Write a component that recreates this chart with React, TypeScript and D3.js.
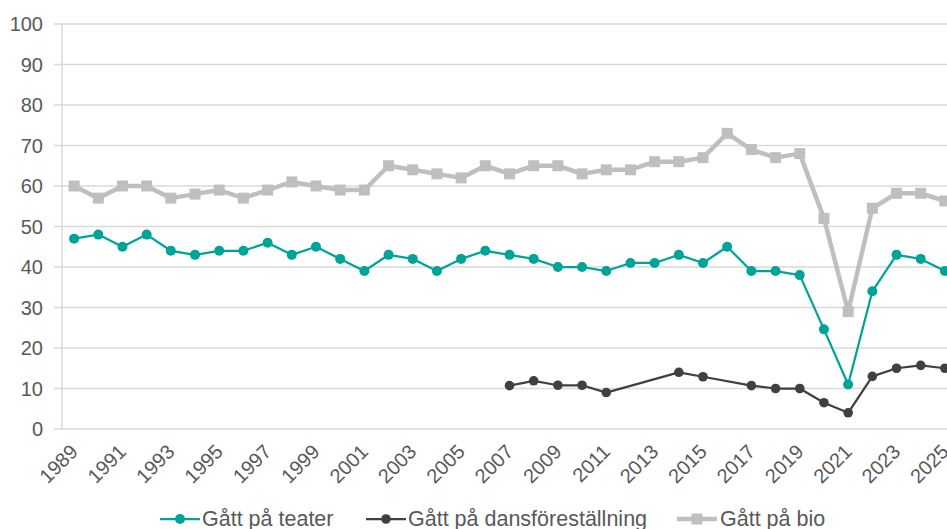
import React from "react";
import * as d3 from "d3";

const years = d3.range(1989, 2026);

const teater = [
  47, 48, 45, 48, 44, 43, 44, 44, 46, 43, 45, 42, 39, 43, 42, 39, 42, 44, 43,
  42, 40, 40, 39, 41, 41, 43, 41, 45, 39, 39, 38, 24.6, 11, 34, 43, 42, 39,
];

const dans = [
  null, null, null, null, null, null, null, null, null, null, null, null, null,
  null, null, null, null, null, 10.7, 11.9, 10.8, 10.8, 9, null, null, 14, 12.9,
  null, 10.7, 10, 10, 6.5, 4, 13, 15, 15.7, 15,
];

const bio = [
  60, 57, 60, 60, 57, 58, 59, 57, 59, 61, 60, 59, 59, 65, 64, 63, 62, 65, 63,
  65, 65, 63, 64, 64, 66, 66, 67, 73, 69, 67, 68, 52, 29, 54.5, 58.2, 58.2, 56.3,
];

const yTicks = [0, 10, 20, 30, 40, 50, 60, 70, 80, 90, 100];
const xTickYears = years.filter((y) => (y - 1989) % 2 === 0);

const seriesNames = [
  "Gått på teater",
  "Gått på dansföreställning",
  "Gått på bio",
];

const W = 947;
const H = 529;
const margin = { left: 62, top: 24, bottom: 100 };
const plotRight = 957;

const textColor = "#595959";
const gridColor = "#D9D9D9";

export default function App() {
  const x = d3
    .scaleBand<number>()
    .domain(years)
    .range([margin.left, plotRight]);
  const cx = (yr: number) => (x(yr) as number) + x.bandwidth() / 2;

  const y = d3
    .scaleLinear()
    .domain([0, 100])
    .range([H - margin.bottom, margin.top]);

  const toPoints = (vals: (number | null)[]) =>
    years
      .map((yr, i) => ({ yr, v: vals[i] }))
      .filter((d) => d.v !== null) as { yr: number; v: number }[];

  const line = d3
    .line<{ yr: number; v: number }>()
    .x((d) => cx(d.yr))
    .y((d) => y(d.v));

  const series = [
    { name: seriesNames[0], pts: toPoints(teater), color: "#00A398", width: 2.25, marker: "circle", size: 5 },
    { name: seriesNames[1], pts: toPoints(dans), color: "#404040", width: 2.25, marker: "circle", size: 4.8 },
    { name: seriesNames[2], pts: toPoints(bio), color: "#BFBFBF", width: 4.5, marker: "square", size: 5.5 },
  ];

  const legendItems = [
    { x: 160, textX: 202 },
    { x: 366, textX: 408 },
    { x: 677, textX: 720 },
  ];

  return (
    <svg
      width={W}
      height={H}
      style={{ display: "block", position: "absolute", left: 0, top: 0 }}
      fontFamily="'Liberation Sans', Arial, sans-serif"
    >
      <rect width={W} height={H} fill="#fff" />
      {/* gridlines + y labels */}
      <g>
        {yTicks.map((t) => (
          <g key={t}>
            <line
              x1={54}
              x2={plotRight}
              y1={y(t)}
              y2={y(t)}
              stroke={gridColor}
              strokeWidth={1.5}
            />
            <text
              x={43}
              y={y(t)}
              dy="0.35em"
              textAnchor="end"
              fontSize={20}
              fill={textColor}
            >
              {t}
            </text>
          </g>
        ))}
        <line
          x1={margin.left}
          x2={margin.left}
          y1={y(100)}
          y2={y(0)}
          stroke={gridColor}
          strokeWidth={1.5}
        />
      </g>
      {/* x labels */}
      <g>
        {xTickYears.map((yr) => (
          <text
            key={yr}
            transform={`translate(${cx(yr) + 5},${y(0) + 24}) rotate(-45)`}
            textAnchor="end"
            fontSize={20}
            fill={textColor}
          >
            {yr}
          </text>
        ))}
      </g>
      {/* series */}
      {series.map((s) => (
        <g key={s.name}>
          <path
            d={line(s.pts) || ""}
            fill="none"
            stroke={s.color}
            strokeWidth={s.width}
            strokeLinejoin="round"
          />
          {s.pts.map((d) =>
            s.marker === "circle" ? (
              <circle key={d.yr} cx={cx(d.yr)} cy={y(d.v)} r={s.size} fill={s.color} />
            ) : (
              <rect
                key={d.yr}
                x={cx(d.yr) - s.size}
                y={y(d.v) - s.size}
                width={s.size * 2}
                height={s.size * 2}
                fill={s.color}
              />
            )
          )}
        </g>
      ))}
      {/* legend */}
      <g>
        {series.map((s, i) => {
          const lx = legendItems[i].x;
          const ly = 519;
          return (
            <g key={s.name}>
              <line
                x1={lx}
                x2={lx + 40}
                y1={ly}
                y2={ly}
                stroke={s.color}
                strokeWidth={s.marker === "square" ? 4.5 : 2.25}
              />
              {s.marker === "circle" ? (
                <circle cx={lx + 20} cy={ly} r={s.size} fill={s.color} />
              ) : (
                <rect
                  x={lx + 20 - s.size}
                  y={ly - s.size}
                  width={s.size * 2}
                  height={s.size * 2}
                  fill={s.color}
                />
              )}
              <text
                x={legendItems[i].textX}
                y={526}
                fontSize={21.5}
                fill={textColor}
              >
                {s.name}
              </text>
            </g>
          );
        })}
      </g>
    </svg>
  );
}
